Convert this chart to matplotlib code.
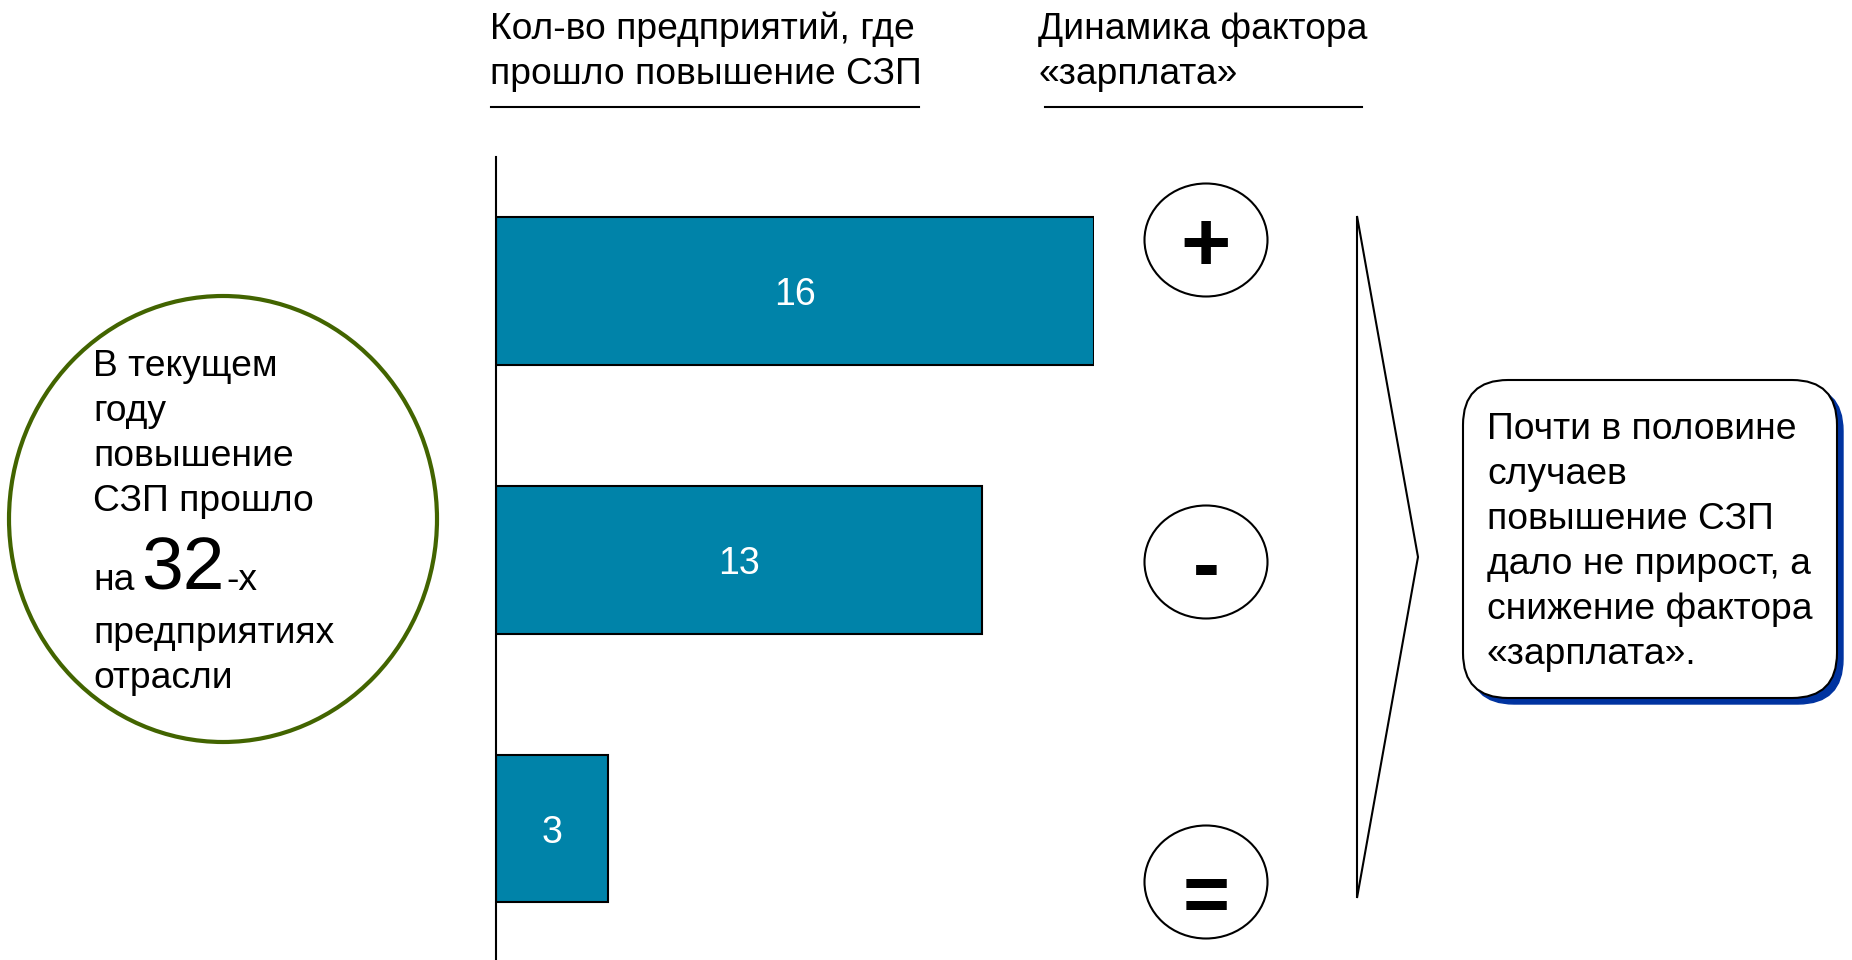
import matplotlib.pyplot as plt
from matplotlib.patches import Ellipse, FancyBboxPatch, Polygon

plt.rcParams['font.family'] = ['Liberation Sans', 'DejaVu Sans']

# data
categories = ['+', '-', '=']
counts = [16, 13, 3]
total_label = '32'

head_left = ['Кол-во предприятий, где', 'прошло повышение СЗП']
head_right = ['Динамика фактора', '«зарплата»']
circle_lines_top = ['В текущем', 'году', 'повышение', 'СЗП прошло']
circle_lines_bottom = ['предприятиях', 'отрасли']
box_lines = ['Почти в половине', 'случаев', 'повышение СЗП',
             'дало не прирост, а', 'снижение фактора', '«зарплата».']

W, H = 1852, 960
fig = plt.figure(figsize=(W / 100, H / 100), dpi=100)

# bar chart axes: x=0 at px 496, x=16 at px 1094, top at px 157
ax = fig.add_axes([496 / W, 0, (1094 - 496) / W, (960 - 157) / H])
ypos = list(range(len(counts)))
bars = ax.barh(ypos, counts, height=0.55, color='#0083A9',
               edgecolor='black', linewidth=1.5)
for b, v in zip(bars, counts):
    ax.annotate(str(v), (b.get_width() / 2, b.get_y() + b.get_height() / 2),
                xytext=(0, -3), textcoords='offset points',
                ha='center', va='center', color='white', fontsize=27)
ax.set_xlim(0, 16)
ax.set_ylim(2.49, -0.5)
for s in ['top', 'right', 'bottom']:
    ax.spines[s].set_visible(False)
ax.spines['left'].set_linewidth(1.5)
ax.set_xticks([])
ax.set_yticks([])
ax.patch.set_alpha(0)

# overlay in pixel coordinates
ov = fig.add_axes([0, 0, 1, 1])
ov.set_xlim(0, W)
ov.set_ylim(H, 0)
ov.axis('off')

fs = 26.8

# headings
for i, t in enumerate(head_left):
    ov.text(490, 39 + i * 45, t, fontsize=fs, va='baseline', ha='left')
for i, t in enumerate(head_right):
    ov.text(1038, 39 + i * 45, t, fontsize=fs, va='baseline', ha='left')
ov.plot([491, 919], [107, 107], color='black', lw=1.5)
ov.plot([1045, 1362], [107, 107], color='black', lw=1.5)

# sign ellipses
sign_y = [240, 562, 882]
sign_shift = [9, 8, 19]
for cy, dy, c in zip(sign_y, sign_shift, categories):
    ov.add_patch(Ellipse((1206, cy), 123, 113, facecolor='none',
                         edgecolor='black', lw=1.5))
    ov.text(1206, cy + dy, c, fontsize=62 if c == '+' else 58,
            fontweight='bold', ha='center', va='center')

# chevron
ov.add_patch(Polygon([[1357, 216], [1418, 557], [1357, 898]], closed=True,
                     facecolor='none', edgecolor='black', lw=1.5))

# left circle
ov.add_patch(Ellipse((223, 519), 428, 446, facecolor='none',
                     edgecolor='#426400', lw=3))
for i, t in enumerate(circle_lines_top):
    ov.text(93, 376 + i * 45, t, fontsize=fs, va='baseline', ha='left')
ov.text(93, 590, 'на', fontsize=fs, va='baseline', ha='left')
ov.text(141, 590, total_label, fontsize=54, va='baseline', ha='left')
ov.text(226, 590, '-х', fontsize=fs, va='baseline', ha='left')
for i, t in enumerate(circle_lines_bottom):
    ov.text(93, 643 + i * 45, t, fontsize=fs, va='baseline', ha='left')

# right rounded box with blue shadow
ov.add_patch(FancyBboxPatch((1469, 386), 374, 318,
                            boxstyle='round,pad=0,rounding_size=45',
                            facecolor='#0033A0', edgecolor='#0033A0', lw=1))
ov.add_patch(FancyBboxPatch((1463, 380), 374, 318,
                            boxstyle='round,pad=0,rounding_size=45',
                            facecolor='white', edgecolor='black', lw=1.5))
for i, t in enumerate(box_lines):
    ov.text(1487, 439 + i * 45, t, fontsize=fs, va='baseline', ha='left')

fig.savefig('out.png', dpi=100)
